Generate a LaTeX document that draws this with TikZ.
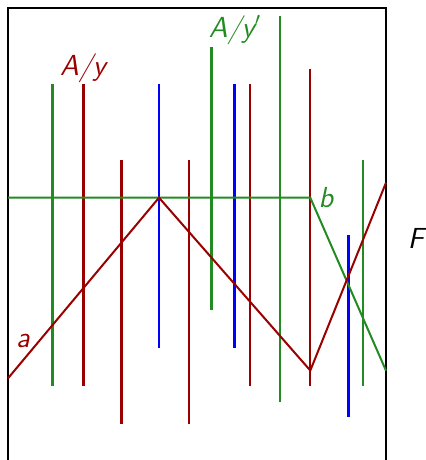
\documentclass[tikz,border=0pt]{standalone}
\usetikzlibrary{positioning}
\definecolor{grn}{RGB}{34,139,34}
\definecolor{dred}{RGB}{153,0,0}
\begin{document}
\begin{tikzpicture}[x=0.5pt,y=-0.5pt,thk/.style={line width=1.5pt},thn/.style={line width=1pt},lbl/.style={font=\sffamily\slshape\fontsize{14.5}{17}\selectfont}]
\useasboundingbox (0,0) rectangle (425,460);
\draw[line width=1pt] (8,460)--(8,8)--(386,8)--(386,460);
\draw[thk,grn] (52.7,84)--(52.7,386);
\draw[thk,dred] (83.3,84)--(83.3,386);
\draw[thk,dred] (121.3,160)--(121.3,424);
\draw[thn,blue] (159,84)--(159,348);
\draw[thn,dred] (189.3,160)--(189.3,424);
\draw[thk,grn] (211,47)--(211,310);
\draw[thk,blue] (234.7,84)--(234.7,348);
\draw[thn,dred] (249.7,84)--(249.7,386);
\draw[thn,grn] (280.3,16)--(280.3,401.7);
\draw[thn,dred] (310.3,69)--(310.3,386);
\draw[thk,blue] (348,235.3)--(348,416.7);
\draw[thn,grn] (363.3,160)--(363.3,386);
\coordinate (b0) at (8,197.7);
\coordinate (b1) at (310.3,197.7);
\coordinate (b2) at (386,370.7);
\draw[thn,grn] (b0)--(b1)--(b2);
\coordinate (a0) at (8,378.3);
\coordinate (a1) at (159,197.7);
\coordinate (a2) at (310.3,370.5);
\coordinate (a3) at (386,182.7);
\draw[thn,dred] (a0)--(a1)--(a2)--(a3);
\node[lbl,text=dred] (ay) at (83,68) {A/y};
\node[lbl,text=grn] (ayp) at (235,30) {A/y$'$};
\node[lbl,text=grn] (lb) at (326,198) {b};
\node[lbl,text=dred] (la) at (23,341) {a};
\node[lbl] (lF) at (416,238) {F};
\end{tikzpicture}
\end{document}
